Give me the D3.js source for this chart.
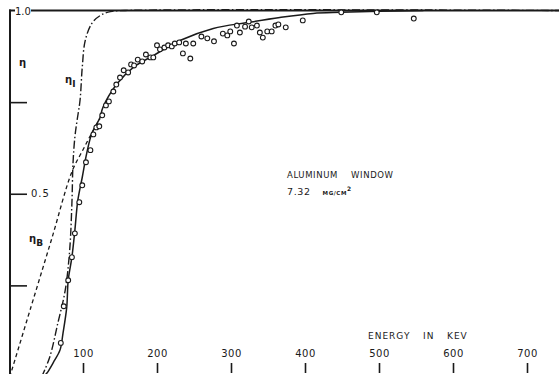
<!DOCTYPE html>
<html>
<head>
<meta charset="utf-8">
<script src="https://cdn.jsdelivr.net/npm/d3@7"></script>
<style>
  html, body { margin: 0; padding: 0; background: #fff; }
  svg { display: block; }
  text { font-family: "DejaVu Sans", sans-serif; fill: #1a1a1a; }
</style>
</head>
<body>
<div id="chart"></div>
<script>
// tick labels
const xTicks = [100, 200, 300, 400, 500, 600, 700];
const yTicks = [0.25, 0.5, 0.75];

// measured efficiency points (energy keV, eta)
const pointE = [70, 74, 80, 85, 89, 95, 99, 104, 110, 114, 118, 122, 126, 131, 135, 141, 145, 150, 155, 161, 165, 169, 174, 180, 185, 191, 195, 200, 204, 210, 215, 220, 224, 230, 235, 239, 245, 249, 260, 268, 277, 289, 295, 299, 304, 308, 312, 319, 324, 328, 335, 339, 343, 349, 355, 360, 364, 374, 397, 449, 497, 547];
const pointEta = [0.093, 0.193, 0.264, 0.327, 0.392, 0.477, 0.523, 0.586, 0.619, 0.662, 0.681, 0.684, 0.714, 0.741, 0.752, 0.779, 0.798, 0.817, 0.837, 0.831, 0.853, 0.850, 0.866, 0.861, 0.880, 0.872, 0.872, 0.905, 0.894, 0.899, 0.905, 0.902, 0.910, 0.913, 0.883, 0.910, 0.869, 0.910, 0.929, 0.924, 0.916, 0.937, 0.932, 0.943, 0.910, 0.959, 0.940, 0.956, 0.970, 0.954, 0.959, 0.940, 0.926, 0.943, 0.943, 0.959, 0.962, 0.954, 0.973, 0.995, 0.995, 0.978];

// fitted eta (solid)
const fitE = [46, 51, 60, 69, 73, 78, 80, 85, 89, 93, 99, 105, 112, 123, 127, 146, 168, 195, 231, 276, 322, 366, 411, 449, 500, 560];
const fitEta = [0.0, 0.01, 0.04, 0.074, 0.12, 0.19, 0.264, 0.327, 0.40, 0.482, 0.545, 0.61, 0.665, 0.708, 0.736, 0.80, 0.845, 0.877, 0.918, 0.951, 0.967, 0.981, 0.992, 0.995, 0.998, 1.0];

// eta_I (dash-dot)
const etaIE = [44, 55, 66, 76, 82, 85, 86.5, 89, 92, 96, 99, 103, 112, 123, 137, 157, 745];
const etaI = [0.0, 0.054, 0.147, 0.237, 0.346, 0.474, 0.583, 0.654, 0.70, 0.755, 0.845, 0.918, 0.965, 0.986, 0.997, 1.0, 1.0];

// eta_B (dashed)
const etaBE = [1, 30, 58, 85, 100, 113, 123];
const etaB = [0.0, 0.193, 0.379, 0.56, 0.62, 0.67, 0.705];

const width = 559, height = 374;
const ink = "#1a1a1a";

const svg = d3.select("#chart").append("svg")
  .attr("width", width)
  .attr("height", height);

const x = d3.scaleLinear().domain([0, 700]).range([9, 527]);
const y = d3.scaleLinear().domain([0, 1]).range([377, 10.5]);

const zip = (a, b) => a.map((v, i) => [v, b[i]]);
const line = d3.line()
  .x(d => x(d[0]))
  .y(d => y(d[1]))
  .curve(d3.curveCatmullRom.alpha(0.5));

// reference line at 1.0
svg.append("line")
  .attr("x1", 31).attr("x2", width)
  .attr("y1", y(1)).attr("y2", y(1))
  .attr("stroke", ink).attr("stroke-width", 2);

// left axis
const yAxis = svg.append("g")
  .attr("transform", "translate(10,0)")
  .call(d3.axisRight(y).tickValues(yTicks).tickSize(17).tickPadding(4)
    .tickFormat(d => d === 0.5 ? "0.5" : ""));
yAxis.select(".domain").remove();
yAxis.selectAll("line").attr("stroke", ink).attr("stroke-width", 1.6);
yAxis.selectAll("text").attr("font-size", 10).attr("letter-spacing", 1)
  .attr("font-family", "DejaVu Sans").attr("fill", ink);

svg.append("line")
  .attr("x1", 10).attr("x2", 10)
  .attr("y1", y(1) - 1).attr("y2", height)
  .attr("stroke", ink).attr("stroke-width", 2);
svg.append("line")
  .attr("x1", 9).attr("x2", 15)
  .attr("y1", y(1)).attr("y2", y(1))
  .attr("stroke", ink).attr("stroke-width", 2);
svg.append("text")
  .attr("x", 15).attr("y", y(1) + 4)
  .attr("font-size", 10)
  .text("1.0");

// bottom axis (labels above ticks, no baseline)
const xAxis = svg.append("g")
  .attr("transform", "translate(0,373)")
  .call(d3.axisTop(x).tickValues(xTicks).tickSize(10).tickPadding(6));
xAxis.select(".domain").remove();
xAxis.selectAll("line").attr("stroke", ink).attr("stroke-width", 1.6);
xAxis.selectAll("text").attr("font-size", 10).attr("letter-spacing", 0.5)
  .attr("font-family", "DejaVu Sans").attr("fill", ink);

// curves
svg.append("path")
  .datum(zip(etaBE, etaB))
  .attr("d", line)
  .attr("fill", "none").attr("stroke", ink).attr("stroke-width", 1.3)
  .attr("stroke-dasharray", "4,3");

svg.append("path")
  .datum(zip(etaIE, etaI))
  .attr("d", line)
  .attr("fill", "none").attr("stroke", ink).attr("stroke-width", 1.4)
  .attr("stroke-dasharray", "8,2.5,1.5,2.5");

svg.append("path")
  .datum(zip(fitE, fitEta))
  .attr("d", line)
  .attr("fill", "none").attr("stroke", ink).attr("stroke-width", 1.5);

// data points
svg.append("g").selectAll("circle")
  .data(zip(pointE, pointEta))
  .join("circle")
    .attr("cx", d => x(d[0]))
    .attr("cy", d => y(d[1]))
    .attr("r", 2.4)
    .attr("fill", "#fff")
    .attr("stroke", ink)
    .attr("stroke-width", 1.1);

// curve labels
const etaLabel = (px, py, sub) => {
  const t = svg.append("text").attr("x", px).attr("y", py).attr("font-size", 10).attr("font-weight", "bold");
  t.append("tspan").text("η");
  if (sub) t.append("tspan").attr("dy", 4).attr("font-size", 9).text(sub);
};
etaLabel(19, 66, null);
etaLabel(65, 83, "I");
etaLabel(29, 242, "B");

// annotation
svg.append("text").attr("x", 287).attr("y", 178).attr("font-size", 8.5)
  .attr("letter-spacing", 0.6).attr("xml:space", "preserve")
  .text("ALUMINUM    WINDOW");
const win = svg.append("text").attr("x", 287).attr("y", 195).attr("font-size", 9.5)
  .attr("letter-spacing", 0.6);
win.append("tspan").text("7.32");
win.append("tspan").attr("dx", 12).attr("font-size", 5.5).attr("font-weight", "bold").text("MG/CM");
win.append("tspan").attr("dy", -4).attr("font-size", 6).attr("font-weight", "bold").text("2");

// axis title, word by word
const titleWords = ["ENERGY", "IN", "KEV"];
const titleX = [368, 423, 447];
svg.append("g").selectAll("text")
  .data(titleWords)
  .join("text")
    .attr("x", (d, i) => titleX[i])
    .attr("y", 339)
    .attr("font-size", 9)
    .attr("letter-spacing", 1)
    .text(d => d);
</script>
</body>
</html>
